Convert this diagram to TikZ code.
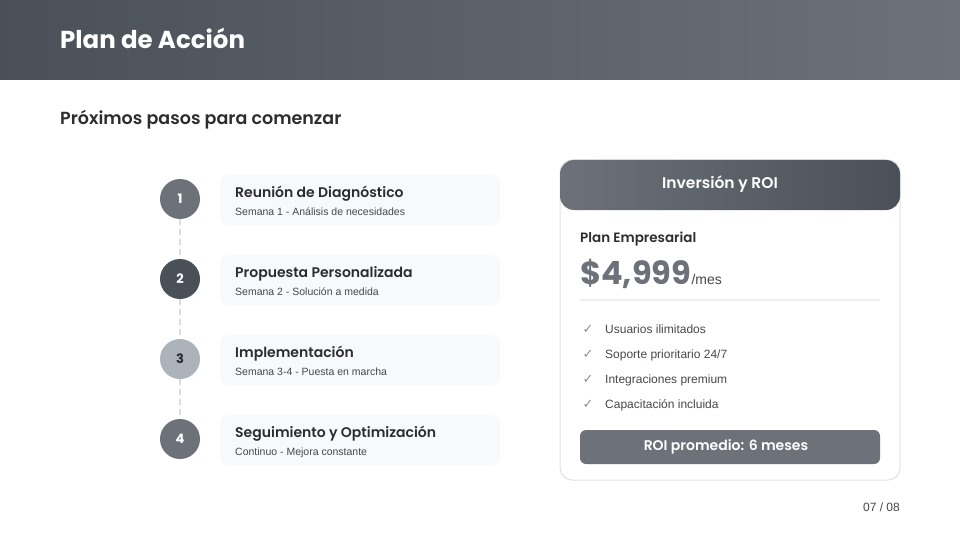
\documentclass[tikz,border=0pt]{standalone}
\usepackage{fontspec}
\setmainfont{Liberation Sans}
\newfontfamily\headfont{Poppins}[BoldFont={Poppins SemiBold}]
\newfontfamily\titlefont{Poppins}
\newfontfamily\symfont{DejaVu Sans}
\usepackage{tikz}

\definecolor{hdark}{RGB}{74,80,88}
\definecolor{hlight}{RGB}{108,113,122}
\definecolor{stepmid}{RGB}{108,113,122}
\definecolor{steppale}{RGB}{173,179,186}
\definecolor{boxfill}{RGB}{248,249,250}
\definecolor{inkdark}{RGB}{45,45,48}
\definecolor{inksoft}{RGB}{70,72,76}
\definecolor{cardline}{RGB}{222,225,229}
\definecolor{rule}{RGB}{238,239,240}
\definecolor{dashgray}{RGB}{218,220,224}
\definecolor{tickgray}{RGB}{140,144,150}

\tikzset{
    stepdot/.style={circle, minimum size=40pt, inner sep=0pt,
        font=\titlefont\bfseries\fontsize{13}{13}\selectfont, text=white},
    stepbox/.style={rounded corners=8pt, fill=boxfill, minimum width=280pt,
        minimum height=50pt, inner sep=0pt},
    steptitle/.style={anchor=base west, inner sep=0pt, text=inkdark,
        font=\headfont\bfseries\fontsize{14}{14}\selectfont},
    stepnote/.style={anchor=base west, inner sep=0pt, text=inksoft,
        font=\fontsize{10.5}{10.5}\selectfont},
    perk/.style={anchor=base west, inner sep=0pt, text=inksoft,
        font=\fontsize{12}{12}\selectfont},
    tick/.style={anchor=base, inner sep=0pt, text=tickgray,
        font=\symfont\fontsize{13}{13}\selectfont}
}

\begin{document}
\begin{tikzpicture}[x=1pt,y=-1pt]
                \useasboundingbox (0,0) rectangle (960,540);
                \fill[white] (0,0) rectangle (960,540);
                \shade[left color=hdark, right color=hlight]
                    (0,0) rectangle (960,80);
                \node[anchor=base west, inner sep=0pt, text=white,
                    font=\titlefont\bfseries\fontsize{24.5}{24.5}\selectfont]
                    (title) at (60,49) {Plan de Acción};
                \node[anchor=base west, inner sep=0pt, text=inkdark,
                    font=\headfont\bfseries\fontsize{17.5}{17.5}\selectfont]
                    (subtitle) at (60,125) {Próximos pasos para comenzar};

                \node[stepdot, fill=stepmid] (c1) at (180,199) {1};
                \node[stepdot, fill=hdark] (c2) at (180,279) {2};
                \node[stepdot, fill=steppale, text=inkdark] (c3) at (180,359) {3};
                \node[stepdot, fill=stepmid] (c4) at (180,439) {4};
                \draw[dashgray, line width=1.5pt, dash pattern=on 6pt off 4pt]
                    (c1.south) -- (c2.north) (c2.south) -- (c3.north)
                    (c3.south) -- (c4.north);

                \node[stepbox] (s1) at (360,200) {};
                \node[stepbox] (s2) at (360,280) {};
                \node[stepbox] (s3) at (360,360) {};
                \node[stepbox] (s4) at (360,440) {};
                \node[steptitle] (t1) at (235,197) {Reunión de Diagnóstico};
                \node[stepnote] (n1) at (235,215) {Semana 1 - Análisis de necesidades};
                \node[steptitle] (t2) at (235,277) {Propuesta Personalizada};
                \node[stepnote] (n2) at (235,295) {Semana 2 - Solución a medida};
                \node[steptitle] (t3) at (235,357) {Implementación};
                \node[stepnote] (n3) at (235,375) {Semana 3-4 - Puesta en marcha};
                \node[steptitle] (t4) at (235,437) {Seguimiento y Optimización};
                \node[stepnote] (n4) at (235,455) {Continuo - Mejora constante};

                \draw[cardline, line width=1pt, fill=white, rounded corners=12pt]
                    (560,160) rectangle (900,480);
                \shade[left color=hlight, right color=hdark, rounded corners=14pt]
                    (560,160) rectangle (900,210);
                \node[text=white, inner sep=0pt,
                    font=\headfont\bfseries\fontsize{15.5}{15.5}\selectfont]
                    (cardhead) at (720,184) {Inversión y ROI};
                \node[anchor=base west, inner sep=0pt, text=inkdark,
                    font=\headfont\bfseries\fontsize{13.5}{13.5}\selectfont]
                    (plan) at (580,242) {Plan Empresarial};
                \node[anchor=base west, inner sep=0pt, text=stepmid,
                    font=\titlefont\bfseries\fontsize{32}{32}\selectfont]
                    (price) at (580,284) {\$4,999};
                \node[anchor=base west, inner sep=0pt, text=inksoft,
                    font=\fontsize{14}{14}\selectfont]
                    (permonth) at (price.base east) {/mes};
                \draw[rule, line width=2pt] (580,300) -- (880,300);

                \node[tick] (k1) at (588,333) {✓};
                \node[perk] (p1) at (605,333) {Usuarios ilimitados};
                \node[tick] (k2) at (588,358) {✓};
                \node[perk] (p2) at (605,358) {Soporte prioritario 24/7};
                \node[tick] (k3) at (588,383) {✓};
                \node[perk] (p3) at (605,383) {Integraciones premium};
                \node[tick] (k4) at (588,408) {✓};
                \node[perk] (p4) at (605,408) {Capacitación incluida};

                \fill[stepmid, rounded corners=6pt] (580,430) rectangle (880,464);
                \node[text=white, inner sep=0pt,
                    font=\headfont\bfseries\fontsize{14}{14}\selectfont]
                    (roi) at (726,447) {ROI promedio: 6 meses};

                \node[anchor=base east, inner sep=0pt, text=inksoft,
                    font=\fontsize{12}{12}\selectfont]
                    (page) at (900,511) {07 / 08};
            \end{tikzpicture}
\end{document}
